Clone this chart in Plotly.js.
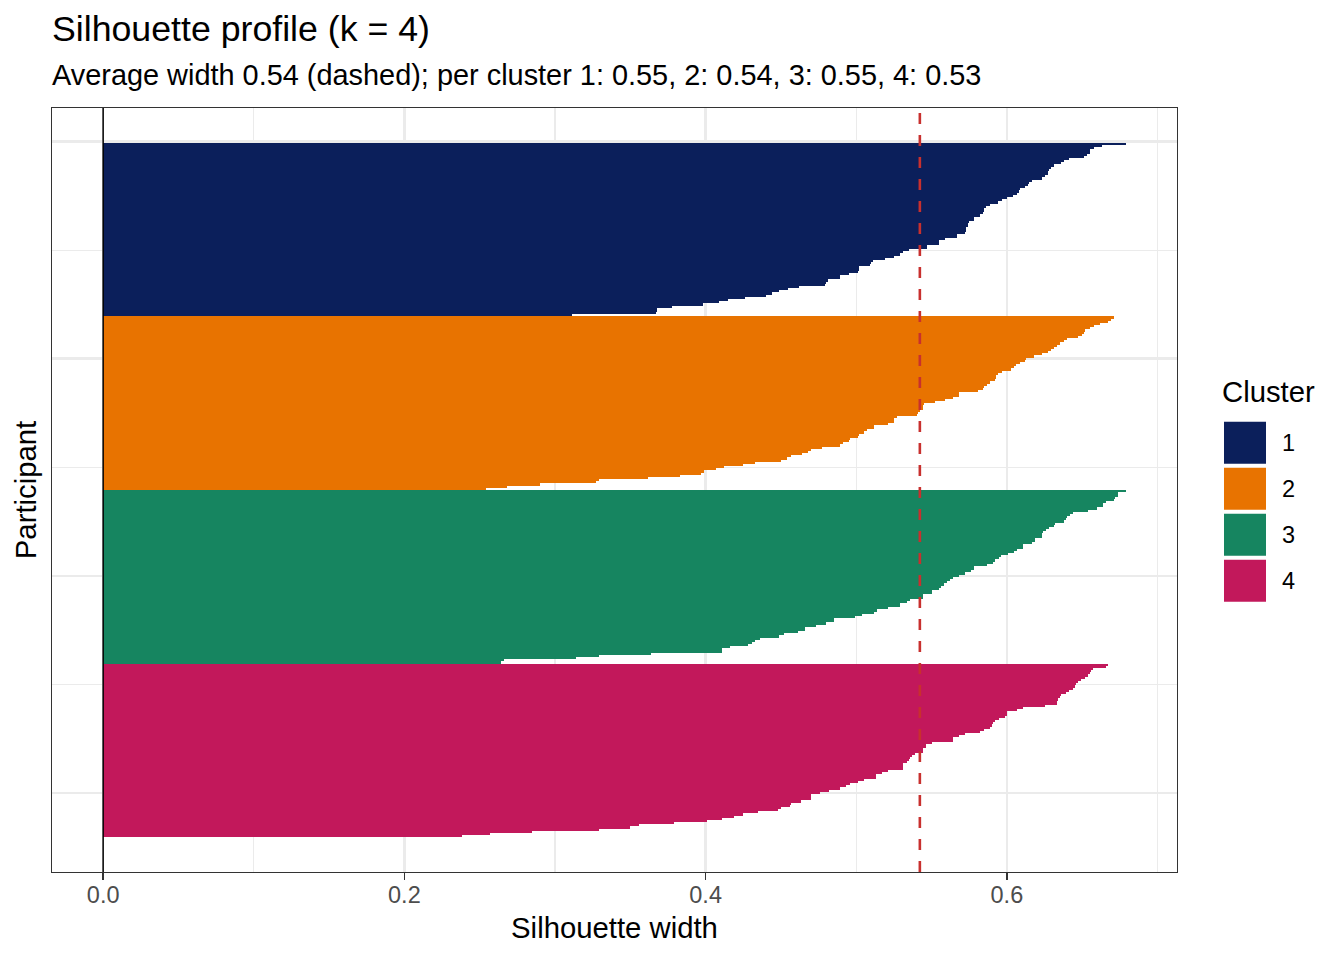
<!DOCTYPE html>
<html>
<head>
<meta charset="utf-8">
<script src="https://cdn.plot.ly/plotly-3.0.1.min.js"></script>
<style>
  html, body { margin: 0; padding: 0; background: #ffffff; }
  #chart { width: 1344px; height: 960px; }
</style>
</head>
<body>
<div id="chart"></div>
<script>
// ---- Data (silhouette widths, sorted within each cluster) ----
const clusterNames = ['1', '2', '3', '4'];

const cluster1 = [
  0.679, 0.663, 0.658, 0.655, 0.655, 0.653, 0.651, 0.641, 0.638, 0.636,
  0.631, 0.629, 0.628, 0.627, 0.627, 0.625, 0.623, 0.617, 0.615, 0.614,
  0.612, 0.609, 0.608, 0.607, 0.604, 0.600, 0.597, 0.594, 0.589, 0.586,
  0.585, 0.585, 0.584, 0.582, 0.578, 0.578, 0.575, 0.574, 0.574, 0.573,
  0.573, 0.572, 0.567, 0.567, 0.559, 0.555, 0.555, 0.547, 0.547, 0.535,
  0.531, 0.529, 0.525, 0.519, 0.511, 0.510, 0.509, 0.502, 0.502, 0.501,
  0.495, 0.489, 0.489, 0.481, 0.480, 0.479, 0.462, 0.455, 0.449, 0.444,
  0.440, 0.426, 0.415, 0.409, 0.398, 0.378, 0.368, 0.368, 0.367, 0.311
];

const cluster2 = [
  0.671, 0.669, 0.667, 0.662, 0.658, 0.655, 0.652, 0.651, 0.650, 0.647,
  0.640, 0.638, 0.635, 0.633, 0.631, 0.629, 0.627, 0.623, 0.618, 0.613,
  0.612, 0.609, 0.606, 0.605, 0.603, 0.597, 0.594, 0.593, 0.593, 0.592,
  0.589, 0.587, 0.585, 0.584, 0.581, 0.568, 0.568, 0.564, 0.559, 0.552,
  0.545, 0.544, 0.544, 0.542, 0.541, 0.540, 0.527, 0.525, 0.525, 0.521,
  0.512, 0.512, 0.507, 0.505, 0.502, 0.501, 0.496, 0.495, 0.491, 0.489,
  0.477, 0.470, 0.468, 0.464, 0.457, 0.454, 0.450, 0.433, 0.425, 0.412,
  0.407, 0.399, 0.397, 0.383, 0.362, 0.329, 0.327, 0.290, 0.268, 0.254
];

const cluster3 = [
  0.679, 0.674, 0.674, 0.672, 0.671, 0.666, 0.664, 0.664, 0.660, 0.654,
  0.644, 0.642, 0.640, 0.639, 0.638, 0.632, 0.631, 0.628, 0.626, 0.624,
  0.623, 0.623, 0.619, 0.619, 0.617, 0.611, 0.611, 0.607, 0.605, 0.601,
  0.596, 0.595, 0.592, 0.591, 0.587, 0.578, 0.578, 0.576, 0.572, 0.568,
  0.564, 0.562, 0.560, 0.558, 0.556, 0.555, 0.550, 0.550, 0.544, 0.544,
  0.536, 0.534, 0.529, 0.529, 0.521, 0.514, 0.512, 0.504, 0.499, 0.485,
  0.485, 0.480, 0.473, 0.466, 0.466, 0.461, 0.452, 0.449, 0.436, 0.433,
  0.431, 0.428, 0.416, 0.411, 0.411, 0.364, 0.329, 0.314, 0.266, 0.264
];

const cluster4 = [
  0.667, 0.666, 0.657, 0.656, 0.655, 0.654, 0.652, 0.649, 0.647, 0.646,
  0.645, 0.644, 0.641, 0.639, 0.636, 0.635, 0.634, 0.633, 0.633, 0.625,
  0.611, 0.607, 0.600, 0.600, 0.599, 0.595, 0.592, 0.591, 0.590, 0.589,
  0.585, 0.582, 0.572, 0.568, 0.564, 0.564, 0.550, 0.546, 0.546, 0.544,
  0.544, 0.539, 0.537, 0.536, 0.535, 0.534, 0.531, 0.531, 0.531, 0.521,
  0.517, 0.513, 0.513, 0.505, 0.501, 0.496, 0.493, 0.489, 0.482, 0.476,
  0.470, 0.470, 0.470, 0.463, 0.457, 0.456, 0.450, 0.448, 0.435, 0.425,
  0.419, 0.411, 0.401, 0.379, 0.356, 0.350, 0.329, 0.285, 0.257, 0.238
];

const xTickVals = [0, 0.2, 0.4, 0.6];
const xTickText = ['0.0', '0.2', '0.4', '0.6'];
const xMinorVals = [0.1, 0.3, 0.5, 0.7];
const yGridMajor = [0, 100, 200, 300];
const yGridMinor = [50, 150, 250];

// ---- Styling ----
const colors = ['#0B1F5B', '#E87300', '#168560', '#C2185B'];
const FONT = '"Liberation Sans", Arial, Helvetica, sans-serif';
const W = 1344, H = 960;
const M = { l: 52, r: 167, t: 108, b: 88 };
const PW = W - M.l - M.r, PH = H - M.t - M.b;
const px2x = px => (px - M.l) / PW;
const px2y = py => (H - M.b - py) / PH;

const clusters = [cluster1, cluster2, cluster3, cluster4];
const allVals = [].concat(...clusters);
const nTotal = allVals.length;
const avg = allVals.reduce((a, b) => a + b, 0) / nTotal;
const xmax = Math.max(...allVals);

let offset = 0;
const traces = clusters.map((vals, ci) => {
  const ys = vals.map((v, i) => offset + i + 1);
  offset += vals.length;
  return {
    type: 'bar',
    orientation: 'h',
    name: clusterNames[ci],
    x: vals,
    y: ys,
    width: 1,
    marker: { color: colors[ci], line: { width: 0 } },
    hoverinfo: 'x',
    showlegend: false
  };
});

const yPad = nTotal * 0.05;
const shapes = [
  // zero line
  { type: 'line', xref: 'x', yref: 'paper', x0: 0, x1: 0, y0: 0, y1: 1,
    line: { color: '#000000', width: 1.5 }, layer: 'above' },
  // average line (dashed)
  { type: 'line', xref: 'x', yref: 'paper', x0: avg, x1: avg, y0: 0, y1: 1,
    line: { color: '#C8302E', width: 2.6, dash: '11px,11px' }, layer: 'above' }
];

const annotations = [
  { text: 'Silhouette profile (k = 4)', xref: 'paper', yref: 'paper',
    x: px2x(49.5), y: px2y(28.8), xanchor: 'left', yanchor: 'middle', showarrow: false,
    font: { family: FONT, size: 35.7, color: '#000000' } },
  { text: 'Average width 0.54 (dashed); per cluster 1: 0.55, 2: 0.54, 3: 0.55, 4: 0.53',
    xref: 'paper', yref: 'paper',
    x: px2x(49.5), y: px2y(74.8), xanchor: 'left', yanchor: 'middle', showarrow: false,
    font: { family: FONT, size: 28.9, color: '#000000' } },
  { text: 'Cluster', xref: 'paper', yref: 'paper',
    x: px2x(1220), y: px2y(391.5), xanchor: 'left', yanchor: 'middle', showarrow: false,
    font: { family: FONT, size: 29.3, color: '#000000' } }
];

// legend keys
const keyTop = 421.7, keySize = 42, keyGap = 4;
clusterNames.forEach((nm, i) => {
  const t = keyTop + i * (keySize + keyGap);
  shapes.push({ type: 'rect', xref: 'paper', yref: 'paper',
    x0: px2x(1224), x1: px2x(1224 + keySize), y0: px2y(t + keySize), y1: px2y(t),
    fillcolor: colors[i], line: { width: 0 }, layer: 'above' });
  annotations.push({ text: nm, xref: 'paper', yref: 'paper',
    x: px2x(1280), y: px2y(t + keySize / 2), xanchor: 'left', yanchor: 'middle',
    showarrow: false, font: { family: FONT, size: 23.5, color: '#000000' } });
});

const layout = {
  width: W, height: H,
  margin: M,
  paper_bgcolor: '#ffffff',
  plot_bgcolor: '#ffffff',
  barmode: 'overlay',
  bargap: 0,
  showlegend: false,
  font: { family: FONT, color: '#000000' },
  xaxis: {
    range: [-0.05 * xmax, 1.05 * xmax],
    tickmode: 'array', tickvals: xTickVals, ticktext: xTickText,
    ticks: 'outside', ticklen: 7, tickwidth: 1.3, tickcolor: '#333333',
    ticklabelstandoff: -6,
    tickfont: { family: FONT, size: 23.5, color: '#4D4D4D' },
    showgrid: true, gridcolor: '#EBEBEB', gridwidth: 2.4,
    minor: { tickvals: xMinorVals, showgrid: true, gridcolor: '#EBEBEB', gridwidth: 1.2, ticks: '' },
    zeroline: false,
    showline: true, mirror: true, linecolor: '#333333', linewidth: 1.3,
    title: { text: 'Silhouette width', font: { family: FONT, size: 29.3, color: '#000000' }, standoff: 11 },
    automargin: false, fixedrange: true
  },
  yaxis: {
    range: [nTotal + 0.5 + yPad, 0.5 - yPad],
    tickmode: 'array', tickvals: yGridMajor,
    showticklabels: false, ticks: '',
    showgrid: true, gridcolor: '#EBEBEB', gridwidth: 2.4,
    minor: { tickvals: yGridMinor, showgrid: true, gridcolor: '#EBEBEB', gridwidth: 1.2, ticks: '' },
    zeroline: false,
    showline: true, mirror: true, linecolor: '#333333', linewidth: 1.3,
    title: { text: 'Participant', font: { family: FONT, size: 29.3, color: '#000000' }, standoff: 5 },
    automargin: false, fixedrange: true
  },
  shapes: shapes,
  annotations: annotations
};

Plotly.newPlot('chart', traces, layout, { displayModeBar: false, staticPlot: true });
</script>
</body>
</html>
